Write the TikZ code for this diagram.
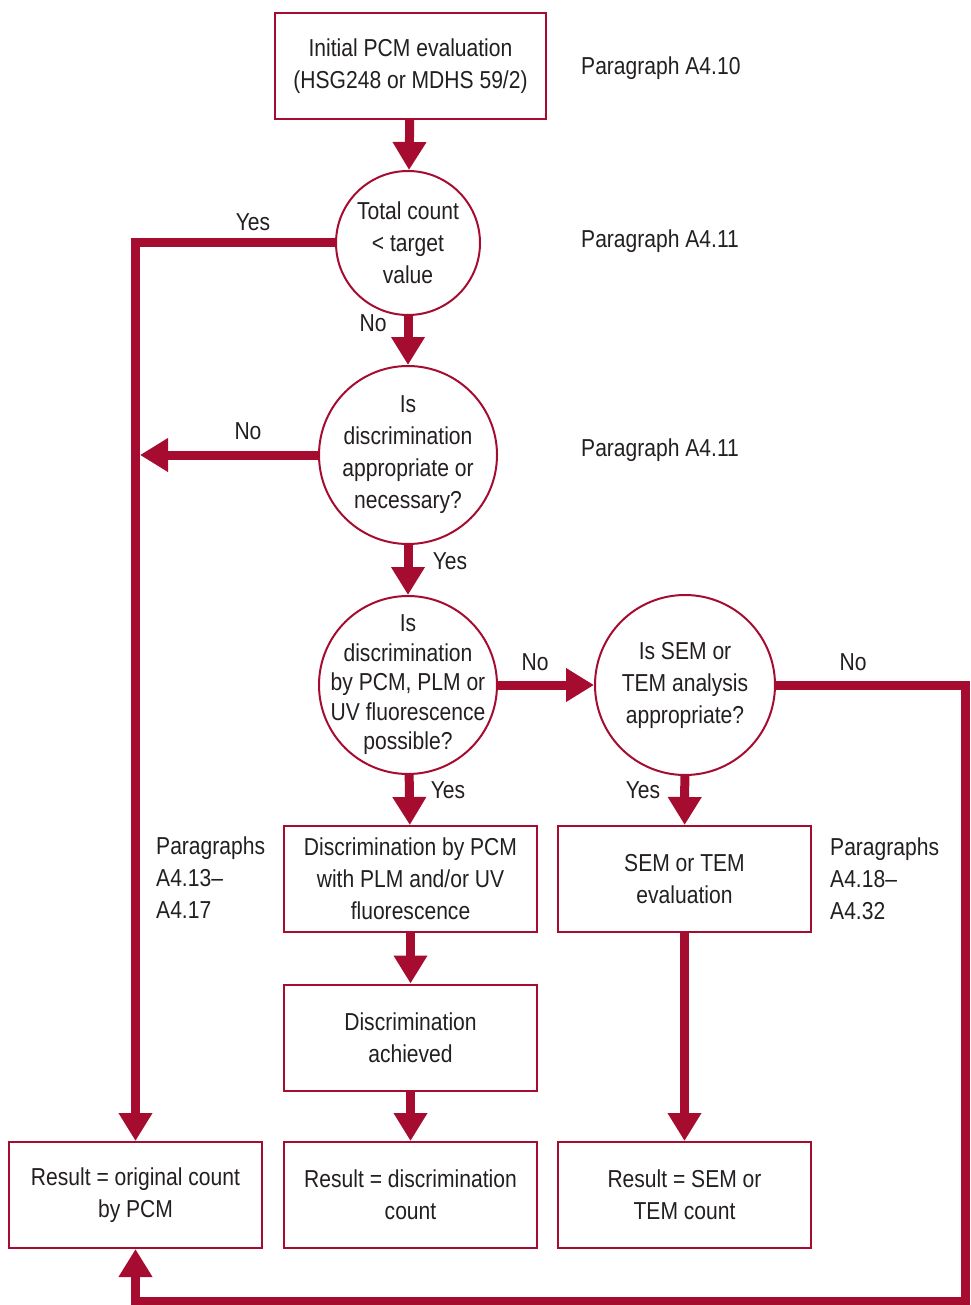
\documentclass[tikz,border=0pt]{standalone}
\usepackage{fontspec}
\setmainfont{Liberation Sans}[FakeStretch=0.86]
\usetikzlibrary{arrows.meta}
\definecolor{hsered}{RGB}{166,12,48}
\definecolor{txt}{RGB}{35,31,32}
\begin{document}
\begin{tikzpicture}[x=1pt,y=-1pt,
  every node/.style={text=txt, font=\fontsize{24.5}{32}\selectfont, align=center, inner sep=0pt},
  box/.style={draw=hsered, line width=2pt, minimum width=253pt, minimum height=106pt},
  dec/.style={draw=hsered, line width=2pt, circle, inner sep=-30pt, minimum size=#1},
  flow/.style={draw=hsered, line width=9pt, line join=miter, -{Triangle[width=32pt,length=28pt]}},
  link/.style={draw=hsered, line width=9pt, line join=miter},
  para/.style={anchor=west, align=left}]
\useasboundingbox (0,0) rectangle (970,1305);

% nodes
\node[box, minimum width=271pt] (b1) at (410.5,66) {Initial PCM evaluation\\(HSG248 or MDHS 59/2)};
\node[dec=144pt] (c1) at (408,243) {Total count\\< target\\value};
\node[dec=178pt] (c2) at (408,455) {Is\\discrimination\\appropriate or\\necessary?};
\node[dec=178pt, font=\fontsize{24.5}{29.5}\selectfont] (c3) at (408,685) {Is\\discrimination\\by PCM, PLM or\\UV fluorescence\\possible?};
\node[dec=180pt] (c4) at (685,685) {Is SEM or\\TEM analysis\\appropriate?};
\node[box] (b2) at (410.5,879) {Discrimination by PCM\\with PLM and/or UV\\fluorescence};
\node[box] (b3) at (684.5,879) {SEM or TEM\\evaluation};
\node[box] (b4) at (410.5,1037.5) {Discrimination\\achieved};
\node[box] (r1) at (135.5,1195) {Result = original count\\by PCM};
\node[box] (r2) at (410.5,1195) {Result = discrimination\\count};
\node[box] (r3) at (684.5,1195) {Result = SEM or\\TEM count};

% side labels
\node[para] (p1) at (581,68) {Paragraph A4.10};
\node[para] (p2) at (581,241) {Paragraph A4.11};
\node[para] (p3) at (581,450) {Paragraph A4.11};
\node[para] (p4) at (156,878) {Paragraphs\\A4.13–\\A4.17};
\node[para] (p5) at (830,879) {Paragraphs\\A4.18–\\A4.32};

% connector labels
\node (lyes1) at (253,222) {Yes};
\node (lno1) at (373,323) {No};
\node (lno2) at (248,431) {No};
\node (lyes2) at (450,561) {Yes};
\node (lno3) at (535,662) {No};
\node (lno4) at (853,662) {No};
\node (lyes3) at (448,790) {Yes};
\node (lyes4) at (643,790) {Yes};

% coordinates
\coordinate (j2) at (140,455);
\coordinate (k1) at (965,685);
\coordinate (k2) at (965,1301);

% connectors
\draw[flow] (b1) -- (c1);
\draw[flow] (c1) -- (c2);
\draw[flow] (c2) -- (c3);
\draw[flow] (c3) -- (b2);
\draw[flow] (c3) -- (c4);
\draw[flow] (c4) -- (b3);
\draw[flow] (b2) -- (b4);
\draw[flow] (b4) -- (r2);
\draw[flow] (b3) -- (r3);
\draw[flow] (c1.west) -| (r1.north);
\draw[flow] (c2.west) -- (j2);
\draw[flow] (c4.east) -- (k1) -- (k2) -| (r1.south);
\end{tikzpicture}
\end{document}
